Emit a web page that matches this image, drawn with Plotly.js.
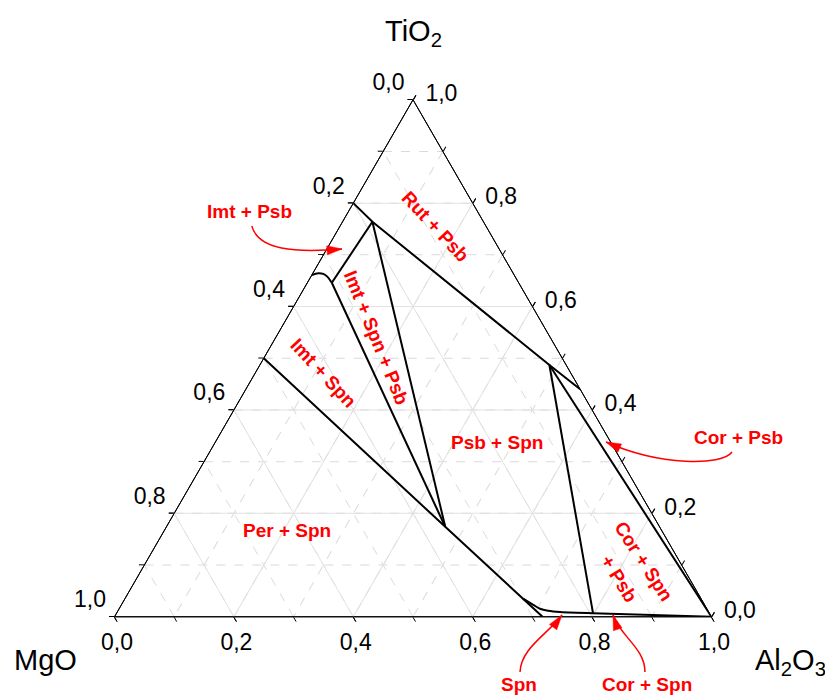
<!DOCTYPE html>
<html>
<head>
<meta charset="utf-8">
<script src="https://cdn.plot.ly/plotly-3.0.1.min.js"></script>
<style>
  html, body { margin: 0; padding: 0; background: #ffffff; }
  #chart { width: 825px; height: 695px; }
</style>
</head>
<body>
<div id="chart"></div>
<script>
// Compositions are [TiO2, MgO, Al2O3] mole fractions.

// Phase boundary lines
const rutPsbBoundary = [[0.800, 0.200, 0.000], [0.764, 0.186, 0.050], [0.487, 0.028, 0.485], [0.440, 0.000, 0.560]];
const imtPsbTop      = [[0.764, 0.186, 0.050], [0.646, 0.313, 0.041]];
const imtPsbCurve    = [[0.661, 0.339, 0.000], [0.6645, 0.3263, 0.0092], [0.6631, 0.3187, 0.0182], [0.6579, 0.3146, 0.0275], [0.646, 0.313, 0.041]];
const imtSpnPsbLeft  = [[0.646, 0.313, 0.041], [0.174, 0.359, 0.467]];
const imtSpnPsbRight = [[0.764, 0.186, 0.050], [0.174, 0.359, 0.467]];
const imtSpnTie      = [[0.500, 0.500, 0.000], [0.174, 0.359, 0.467], [0.000, 0.283, 0.717]];
const spnCurve       = [[0.035, 0.298, 0.667], [0.0232, 0.287, 0.6898], [0.0155, 0.2795, 0.705], [0.0116, 0.268, 0.7204], [0.0091, 0.249, 0.7419], [0.007, 0.195, 0.798]];
const spnBase        = [[0.007, 0.195, 0.798], [0.000, 0.000, 1.000]];
const psbSpnTie      = [[0.487, 0.028, 0.485], [0.007, 0.195, 0.798]];
const corPsbTie      = [[0.487, 0.028, 0.485], [0.000, 0.000, 1.000]];

// Axis ticks (labels read along each edge)
const tickVals = [0, 0.2, 0.4, 0.6, 0.8, 1.0];
const tickText = ['1,0', '0,8', '0,6', '0,4', '0,2', '0,0'];
const axisTitles = ['TiO<sub>2</sub>', 'MgO', 'Al<sub>2</sub>O<sub>3</sub>'];

// Phase field labels
const fieldNames  = ['Rut + Psb', 'Imt + Spn + Psb', 'Imt + Spn', 'Psb + Spn', 'Per + Spn', 'Cor + Spn', '+ Psb'];
const fieldPos    = [[0.754, 0.086, 0.160], [0.539, 0.291, 0.170], [0.4715, 0.4158, 0.1127], [0.338, 0.1903, 0.4717], [0.1678, 0.6272, 0.205], [0.1078, 0.0592, 0.833], [0.0749, 0.1174, 0.8077]];
const fieldAngles = [47, 68, 47, 0, 0, 57, 58];

// Callouts for narrow fields: label text, label position, curved leader (start, ctrl1, ctrl2, tip)
const calloutNames = ['Imt + Psb', 'Cor + Psb', 'Spn', 'Cor + Spn'];
const calloutPos   = [[0.7829, 0.3832, -0.1661], [0.3462, -0.2191, 0.8729], [-0.1311, 0.388, 0.7431], [-0.1311, 0.1728, 0.9583]];
const calloutPaths = [
  [[0.756, 0.392, -0.148], [0.7094, 0.4049, -0.1143], [0.7036, 0.3459, -0.0495], [0.7113, 0.2633, 0.0254]],
  [[0.3187, -0.1937, 0.875], [0.2916, -0.1634, 0.8718], [0.2916, -0.0595, 0.7679], [0.338, 0.0077, 0.6543]],
  [[-0.1069, 0.3742, 0.7327], [-0.0604, 0.3493, 0.7111], [-0.0334, 0.2906, 0.7428], [0.0034, 0.2487, 0.7479]],
  [[-0.1069, 0.1649, 0.942], [-0.0604, 0.1416, 0.9188], [-0.0373, 0.172, 0.8653], [0.0034, 0.1633, 0.8333]]
];

// ---- geometry of the triangle on the page ----
const W = 825, H = 695;
const triW = 597, triH = triW * Math.sqrt(3) / 2;
const triX0 = 114.5, triTop = 99.75;
const domain = {
  x: [triX0 / W, (triX0 + triW) / W],
  y: [1 - (triTop + triH) / H, 1 - triTop / H]
};
// ternary composition -> pixel position (same mapping the ternary subplot uses)
function toPixel(p) {
  const s = p[0] + p[1] + p[2];
  const a = p[0] / s, c = p[2] / s;
  return [triX0 + triW * (c + a / 2), triTop + triH * (1 - a)];
}
function pxToPaper(q) { return [q[0] / W, 1 - q[1] / H]; }
function toPaper(p) { return pxToPaper(toPixel(p)); }

function lineTrace(pts, shape) {
  return {
    type: 'scatterternary', subplot: 'ternary2', mode: 'lines',
    a: pts.map(p => p[0]), b: pts.map(p => p[1]), c: pts.map(p => p[2]),
    line: { color: '#000000', width: 2, shape: shape || 'linear', smoothing: 1 },
    cliponaxis: false, hoverinfo: 'skip', showlegend: false
  };
}

const traces = [
  // holds the fine (0.1) grid subplot
  { type: 'scatterternary', subplot: 'ternary', mode: 'lines', a: [], b: [], c: [], hoverinfo: 'skip', showlegend: false },
  lineTrace(rutPsbBoundary),
  lineTrace(imtPsbTop),
  lineTrace(imtPsbCurve, 'spline'),
  lineTrace(imtSpnPsbLeft),
  lineTrace(imtSpnPsbRight),
  lineTrace(imtSpnTie),
  lineTrace(spnCurve, 'spline'),
  lineTrace(spnBase),
  lineTrace(psbSpnTie),
  lineTrace(corPsbTie)
];

const FONT = 'Arial, "Liberation Sans", sans-serif';
const RED = '#ff0000';

function minorAxis() {
  return {
    tickmode: 'linear', tick0: 0, dtick: 0.1,
    showticklabels: false, ticks: 'outside', ticklen: 5, tickwidth: 1, tickcolor: '#000000',
    showgrid: true, gridcolor: '#dadada', gridwidth: 1, griddash: 'dash',
    showline: true, linecolor: '#000000', linewidth: 1,
    title: { text: '' }
  };
}
function majorAxis(labels) {
  return {
    tickmode: 'array', tickvals: tickVals, ticktext: labels,
    ticks: 'outside', ticklen: 5, tickwidth: 1, tickcolor: '#000000',
    tickfont: { family: FONT, size: 23, color: '#000000' },
    showgrid: true, gridcolor: '#e2e2e2', gridwidth: 1,
    showline: true, linecolor: '#000000', linewidth: 1,
    title: { text: '' }
  };
}
// left-edge labels sit a little above their ticks, right-edge labels a little further out
const leftLabels = tickText.map(t => t + '<br> ');
const rightLabels = tickText.map(t => '\u00a0' + t);

const annotations = [];

// corner titles, placed off each vertex
const vertices = [[1, 0, 0], [0, 1, 0], [0, 0, 1]];
const titleOffsets = [[0, -67], [-69, 43], [79, 45]];
axisTitles.forEach((t, i) => {
  const v = toPixel(vertices[i]);
  annotations.push({
    xref: 'paper', yref: 'paper',
    x: (v[0] + titleOffsets[i][0]) / W, y: 1 - (v[1] + titleOffsets[i][1]) / H,
    text: t, showarrow: false, xanchor: 'center', yanchor: 'middle',
    font: { family: FONT, size: 29, color: '#000000' }
  });
});

fieldNames.forEach((name, i) => {
  const pp = toPaper(fieldPos[i]);
  annotations.push({
    xref: 'paper', yref: 'paper', x: pp[0], y: pp[1],
    text: '<b>' + name + '</b>', showarrow: false, textangle: fieldAngles[i],
    xanchor: 'center', yanchor: 'middle',
    font: { family: FONT, size: 19, color: RED }
  });
});

const shapes = [];
const headLen = 15, headHalf = 4.5;
calloutNames.forEach((name, i) => {
  const lp = toPaper(calloutPos[i]);
  annotations.push({
    xref: 'paper', yref: 'paper', x: lp[0], y: lp[1],
    text: '<b>' + name + '</b>', showarrow: false,
    xanchor: 'center', yanchor: 'middle',
    font: { family: FONT, size: 19, color: RED }
  });
  const pts = calloutPaths[i].map(toPaper);
  shapes.push({
    type: 'path', xref: 'paper', yref: 'paper',
    path: 'M ' + pts[0].join(',') + ' C ' + pts[1].join(',') + ' ' + pts[2].join(',') + ' ' + pts[3].join(','),
    line: { color: RED, width: 1.5 }
  });
  // filled arrow head along the last leg of the leader
  const tip = toPixel(calloutPaths[i][3]);
  const ctl = toPixel(calloutPaths[i][2]);
  const len = Math.hypot(tip[0] - ctl[0], tip[1] - ctl[1]);
  const ux = (tip[0] - ctl[0]) / len, uy = (tip[1] - ctl[1]) / len;
  const bx = tip[0] - ux * headLen, by = tip[1] - uy * headLen;
  const h1 = pxToPaper([bx - uy * headHalf, by + ux * headHalf]);
  const h2 = pxToPaper([bx + uy * headHalf, by - ux * headHalf]);
  shapes.push({
    type: 'path', xref: 'paper', yref: 'paper',
    path: 'M ' + pts[3].join(',') + ' L ' + h1.join(',') + ' L ' + h2.join(',') + ' Z',
    fillcolor: RED, line: { color: RED, width: 0.5 }
  });
});

const layout = {
  width: W, height: H,
  margin: { l: 0, r: 0, t: 0, b: 0 },
  paper_bgcolor: '#ffffff',
  font: { family: FONT, color: '#000000' },
  showlegend: false,
  hovermode: false,
  ternary: {
    domain: domain, sum: 1, bgcolor: '#ffffff',
    aaxis: minorAxis(), baxis: minorAxis(), caxis: minorAxis()
  },
  ternary2: {
    domain: domain, sum: 1, bgcolor: 'rgba(0,0,0,0)',
    aaxis: majorAxis(leftLabels), baxis: majorAxis(tickText), caxis: majorAxis(rightLabels)
  },
  annotations: annotations,
  shapes: shapes
};

Plotly.newPlot('chart', traces, layout, { displayModeBar: false, staticPlot: true });
</script>
</body>
</html>
